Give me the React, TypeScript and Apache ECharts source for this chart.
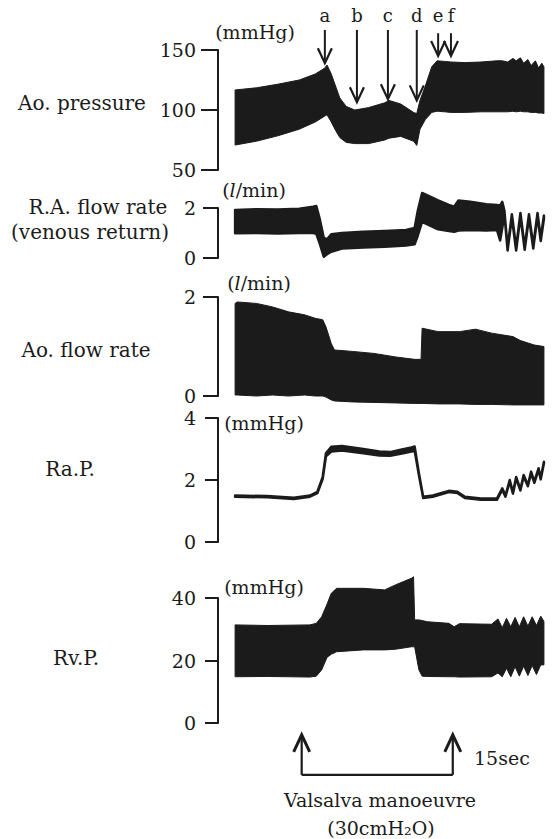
import React, { useEffect, useRef } from "react";
import * as echarts from "echarts";

// ---------- data (time in seconds, values in the panel's unit) ----------
// Ao. pressure (mmHg)
const aoPressTime = [0, 2, 4, 6, 7.5, 8.4, 8.6, 9.0, 9.4, 9.8, 10.4, 11.2, 12.5, 14.0, 14.4, 15.5, 16.7, 17.0, 17.3, 17.8, 18.4, 18.9, 19.6, 20.2, 21.5, 23, 24.5, 25.0, 25.5, 26.0, 26.3, 26.7, 27.0, 27.4, 27.7, 28.1, 28.4, 28.7, 28.9];
const aoPressUpper = [116.7, 118.5, 121.5, 125, 130, 135, 137.5, 130, 120, 110, 103, 100, 102, 106, 108, 105, 98, 97, 108, 120, 136, 141, 140.5, 140, 139.5, 140, 141, 141, 140, 143, 141, 143.5, 139, 142, 137, 141, 135, 139, 136];
const aoPressLower = [70.8, 74, 78.5, 84, 90, 95, 96, 90, 83, 77, 73, 72, 72, 75, 76.5, 78, 74, 70.5, 84, 92, 98, 99, 98.5, 98, 98, 98.5, 98.5, 98.5, 98.5, 99, 98.5, 99, 98.5, 98.5, 98, 98, 97.5, 97.5, 97];

// R.A. flow rate (l/min)
const raFlowTime = [0, 2, 4, 6, 7.3, 7.6, 7.9, 8.3, 8.6, 9.0, 10, 12, 14, 16, 16.8, 17.1, 17.5, 18, 19, 20, 20.5, 20.9, 22, 23.5, 24.5, 24.8, 25.0, 25.2, 25.5, 25.9, 26.3, 26.7, 27.1, 27.5, 27.9, 28.3, 28.6, 28.9];
const raFlowUpper = [1.92, 1.95, 1.94, 1.97, 2.05, 2.08, 1.6, 0.8, 0.75, 0.95, 1.0, 1.05, 1.08, 1.12, 1.2, 1.9, 2.6, 2.5, 2.3, 2.12, 2.05, 2.3, 2.25, 2.15, 2.12, 2.1, 2.25, 1.9, 0.42, 1.75, 0.42, 1.8, 0.45, 1.75, 0.5, 1.8, 0.8, 1.7];
const raFlowLower = [0.99, 1.0, 0.98, 1.0, 1.0, 0.97, 0.6, 0.05, 0.15, 0.25, 0.38, 0.42, 0.45, 0.5, 0.55, 0.9, 1.45, 1.35, 1.15, 1.08, 1.05, 1.1, 1.12, 1.1, 1.12, 0.7, 1.2, 1.75, 0.3, 1.62, 0.3, 1.67, 0.33, 1.62, 0.38, 1.67, 0.68, 1.57];

// Ao. flow rate (l/min)
const aoFlowTime = [0, 0.2, 2, 3.5, 5, 6.5, 7.5, 8.2, 8.5, 9, 9.3, 11, 13, 15, 16.8, 17.4, 17.5, 19, 21, 22.5, 24, 26, 26.7, 28, 28.9];
const aoFlowUpper = [1.87, 1.9, 1.87, 1.8, 1.7, 1.64, 1.57, 1.54, 1.4, 1.06, 0.93, 0.9, 0.86, 0.79, 0.74, 0.74, 1.37, 1.3, 1.3, 1.35, 1.27, 1.2, 1.12, 1.03, 1.0];
const aoFlowLower = [0.02, 0.02, 0.0, 0.02, 0.0, 0.02, 0.0, 0.0, -0.02, -0.08, -0.1, -0.12, -0.13, -0.14, -0.15, -0.15, -0.15, -0.16, -0.16, -0.17, -0.17, -0.18, -0.18, -0.18, -0.18];

// Ra.P. (mmHg)
const raPTime = [0, 3, 5.5, 7, 7.7, 8.2, 8.5, 9, 10, 12, 13.5, 14.5, 15.5, 16.5, 16.8, 17.2, 17.6, 18.5, 20, 20.8, 21.5, 23, 24.5, 25, 25.3, 25.7, 26, 26.3, 26.7, 27, 27.4, 27.7, 28, 28.4, 28.6, 28.9];
const raPUpper = [1.5, 1.48, 1.43, 1.5, 1.62, 2.1, 2.86, 3.07, 3.1, 3.0, 2.92, 2.9, 2.98, 3.05, 3.08, 2.22, 1.46, 1.5, 1.65, 1.62, 1.46, 1.4, 1.4, 1.73, 1.5, 2.0, 1.6, 2.1, 1.7, 2.16, 1.84, 2.27, 1.95, 2.38, 2.06, 2.59];
const raPLower = [1.46, 1.44, 1.39, 1.46, 1.58, 2.04, 2.76, 2.92, 2.95, 2.86, 2.79, 2.78, 2.85, 2.92, 2.95, 2.16, 1.42, 1.46, 1.61, 1.58, 1.42, 1.36, 1.36, 1.68, 1.46, 1.95, 1.56, 2.05, 1.66, 2.11, 1.8, 2.22, 1.91, 2.33, 2.02, 2.54];

// Rv.P. (mmHg)
const rvPTime = [0, 3, 7, 7.6, 8.1, 8.6, 9, 9.5, 12, 14, 15, 16.5, 16.7, 16.8, 17.2, 17.5, 18, 20, 20.5, 21, 24, 24.6, 25, 25.4, 25.8, 26.2, 26.6, 27, 27.4, 27.8, 28.2, 28.6, 28.9];
const rvPUpper = [31.4, 31.2, 31.4, 31.9, 34, 38, 41.5, 43.1, 43.1, 42.6, 44.2, 46.3, 46.8, 33, 33, 32.8, 32.4, 31.9, 30.8, 31.8, 31.6, 33.3, 30.5, 33.5, 30.8, 33.8, 30.8, 34, 31, 34, 31.2, 34.2, 32.5];
const rvPLower = [14.8, 14.9, 14.7, 15, 17, 21, 22, 22.8, 23.4, 23.4, 23.6, 24.4, 24.4, 24.4, 17, 15, 14.9, 14.8, 14.8, 14.7, 14.8, 16, 14.8, 17.5, 14.8, 18, 15, 18.2, 15.2, 18.4, 15.5, 18.6, 18.6];

// annotations
const eventLabels = ["a", "b", "c", "d", "e", "f"];
const eventTimes = [8.4, 11.4, 14.3, 17.0, 19.0, 20.2];
const eventTail = [166.7, 166.7, 166.7, 166.7, 164, 164]; // mmHg
const eventTip = [139, 106.5, 109, 108, 145, 145]; // mmHg
const valsalvaTimes = [6.23, 20.37];

const INK = "#1b1b1b";
const FONT = "'DejaVu Serif', 'Liberation Serif', serif";

const panels = [
  { time: aoPressTime, upper: aoPressUpper, lower: aoPressLower, top: 50, height: 120, min: 50, max: 150, interval: 50, tick: 17, edge: 1 },
  { time: raFlowTime, upper: raFlowUpper, lower: raFlowLower, top: 208, height: 50, min: 0, max: 2, interval: 2, tick: 15, edge: 2.5 },
  { time: aoFlowTime, upper: aoFlowUpper, lower: aoFlowLower, top: 297, height: 99, min: 0, max: 2, interval: 2, tick: 15, edge: 1 },
  { time: raPTime, upper: raPUpper, lower: raPLower, top: 418, height: 124, min: 0, max: 4, interval: 2, tick: 13, edge: 2.5 },
  { time: rvPTime, upper: rvPUpper, lower: rvPLower, top: 598, height: 125, min: 0, max: 40, interval: 20, tick: 13, edge: 1 },
];

export default function App() {
  const ref = useRef<HTMLDivElement>(null);
  useEffect(() => {
    if (!ref.current) return;
    const chart = echarts.init(ref.current, undefined, { renderer: "svg" });
    const grid: any[] = [];
    const xAxis: any[] = [];
    const yAxis: any[] = [];
    const series: any[] = [];
    panels.forEach((p, i) => {
      grid.push({ left: 218, right: 14, top: p.top, height: p.height });
      xAxis.push({ gridIndex: i, type: "value", min: -1.6, max: 29, show: false });
      yAxis.push({
        gridIndex: i,
        type: "value",
        min: p.min,
        max: p.max,
        interval: p.interval,
        axisLine: { show: true, onZero: false, lineStyle: { color: INK, width: 2 } },
        axisTick: { show: true, length: p.tick, lineStyle: { color: INK, width: 2 } },
        axisLabel: { margin: 22, color: INK, fontFamily: FONT, fontSize: 19 },
        splitLine: { show: false },
      });
      series.push({
        type: "custom",
        xAxisIndex: i,
        yAxisIndex: i,
        silent: true,
        data: p.time.map((t, j) => [t, p.lower[j], p.upper[j]]),
        encode: { x: 0, y: [1, 2] },
        renderItem: (params: any, api: any) => {
          if (params.dataIndex !== 0) return null;
          const pts: number[][] = [];
          for (let j = 0; j < p.time.length; j++) pts.push(api.coord([p.time[j], p.upper[j]]));
          for (let j = p.time.length - 1; j >= 0; j--) pts.push(api.coord([p.time[j], p.lower[j]]));
          return {
            type: "polygon",
            shape: { points: pts },
            style: { fill: INK, stroke: INK, lineWidth: p.edge, lineJoin: "round" },
          };
        },
      });
    });

    chart.setOption({
      animation: false,
      backgroundColor: "#ffffff",
      grid,
      xAxis,
      yAxis,
      series,
    });

    const toPx = (g: number, t: number, v: number) =>
      chart.convertToPixel({ gridIndex: g } as any, [t, v]) as unknown as number[];

    const txt = (text: string, x: number, y: number, size: number, align = "center") => ({
      type: "text",
      x,
      y,
      style: {
        text,
        fill: INK,
        font: `${size}px ${FONT}`,
        align,
        verticalAlign: "middle",
      },
      z: 10,
    });

    const unitLM = (x: number, y: number) => ({
      type: "text",
      x,
      y,
      style: {
        text: "{p|(}{i|l}{p|/min)}",
        align: "center",
        verticalAlign: "middle",
        rich: {
          p: { fontFamily: FONT, fontSize: 19, fill: INK, color: INK },
          i: { fontFamily: FONT, fontSize: 19, fontStyle: "italic", fill: INK, color: INK },
        },
      },
      z: 10,
    });

    const graphic: any[] = [
      txt("Ao. pressure", 82, 103, 20),
      txt("R.A. flow rate", 98, 207, 20),
      txt("(venous return)", 90, 232, 20),
      txt("Ao. flow rate", 86, 350, 20),
      txt("Ra.P.", 70, 469, 20),
      txt("Rv.P.", 76, 658, 20),
      txt("(mmHg)", 255, 32, 19),
      unitLM(254, 190),
      unitLM(259, 283),
      txt("(mmHg)", 264, 423, 19),
      txt("(mmHg)", 264, 587, 19),
    ];

    eventTimes.forEach((t, k) => {
      const a = toPx(0, t, eventTail[k]);
      const b = toPx(0, t, eventTip[k]);
      graphic.push({
        type: "line",
        shape: { x1: a[0], y1: a[1], x2: b[0], y2: b[1] - 1 },
        style: { stroke: INK, lineWidth: 2 },
        z: 10,
      });
      graphic.push({
        type: "polyline",
        shape: { points: [[b[0] - 7, b[1] - 15], [b[0], b[1]], [b[0] + 7, b[1] - 15]] },
        style: { stroke: INK, lineWidth: 2.2, fill: null },
        z: 10,
      });
      graphic.push(txt(eventLabels[k], a[0], 15, 18));
    });

    const v0 = toPx(4, valsalvaTimes[0], -16.6);
    const v1 = toPx(4, valsalvaTimes[1], -16.6);
    valsalvaTimes.forEach((t) => {
      const base = toPx(4, t, -16.6);
      const tip = toPx(4, t, -3.8);
      graphic.push({
        type: "line",
        shape: { x1: base[0], y1: base[1], x2: tip[0], y2: tip[1] + 2 },
        style: { stroke: INK, lineWidth: 2.2 },
        z: 10,
      });
      graphic.push({
        type: "polyline",
        shape: { points: [[tip[0] - 8, tip[1] + 17], [tip[0], tip[1]], [tip[0] + 8, tip[1] + 17]] },
        style: { stroke: INK, lineWidth: 3, fill: null },
        z: 10,
      });
    });
    graphic.push({
      type: "line",
      shape: { x1: v0[0], y1: v0[1], x2: v1[0], y2: v1[1] },
      style: { stroke: INK, lineWidth: 2.2 },
      z: 10,
    });
    graphic.push(txt("15sec", 474, 758, 19, "left"));
    graphic.push(txt("Valsalva manoeuvre", 380, 800, 19));
    graphic.push(txt("(30cmH₂O)", 381, 828, 19));

    chart.setOption({ graphic });

    return () => chart.dispose();
  }, []);

  return (
    <div
      ref={ref}
      style={{ position: "absolute", left: 0, top: 0, width: 559, height: 839, background: "#fff" }}
    />
  );
}
